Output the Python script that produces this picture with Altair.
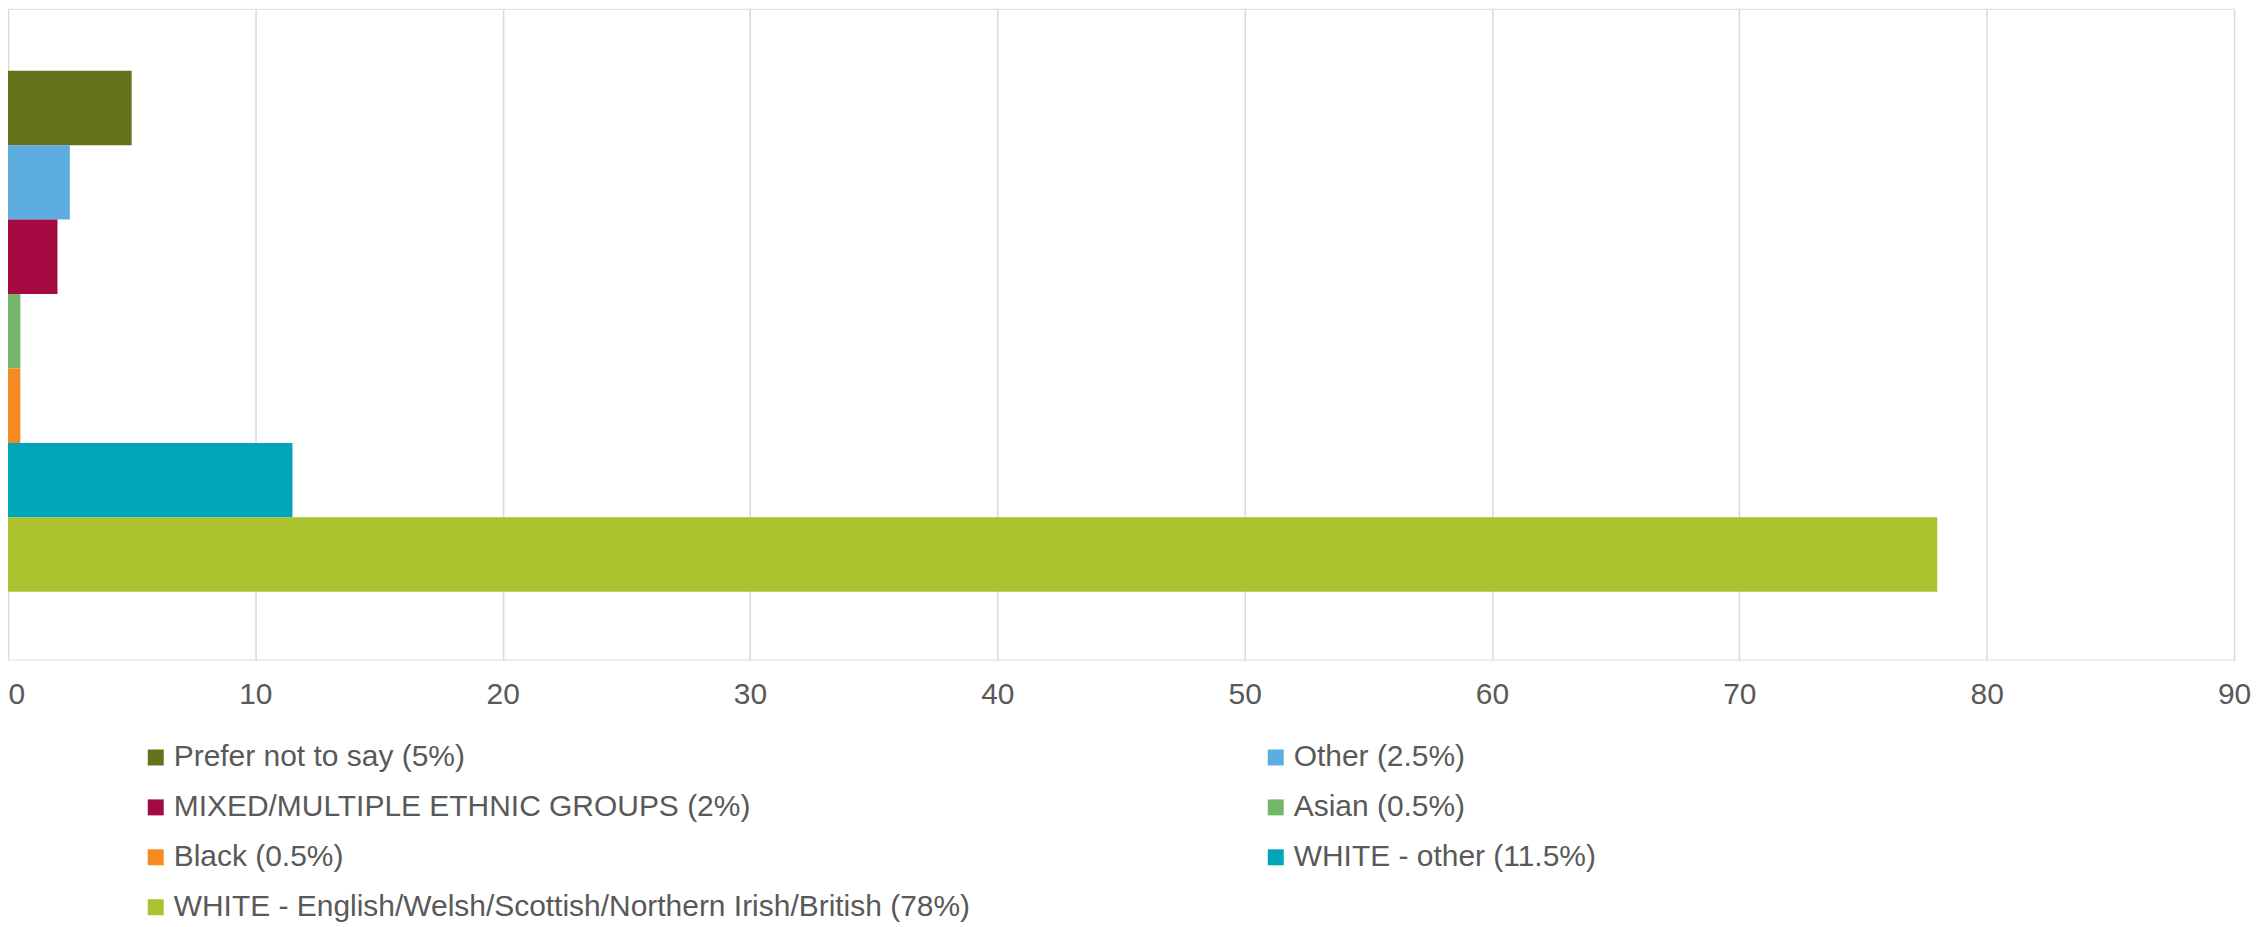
import altair as alt
import pandas as pd

groups = [
    "Prefer not to say (5%)",
    "Other (2.5%)",
    "MIXED/MULTIPLE ETHNIC GROUPS (2%)",
    "Asian (0.5%)",
    "Black (0.5%)",
    "WHITE - other (11.5%)",
    "WHITE - English/Welsh/Scottish/Northern Irish/British (78%)",
]
values = [5, 2.5, 2, 0.5, 0.5, 11.5, 78]
colors = ["#65711b", "#5dade0", "#a50941", "#74b76b", "#f68a22", "#00a5b9", "#abc12d"]
x_ticks = [0, 10, 20, 30, 40, 50, 60, 70, 80, 90]

df = pd.DataFrame({"group": groups, "value": values})

FONT = "Liberation Sans"
GREY = "#595959"

chart = (
    alt.Chart(df)
    .mark_bar()
    .encode(
        x=alt.X(
            "value:Q",
            scale=alt.Scale(domain=[0, 90], nice=False),
            axis=alt.Axis(
                values=x_ticks,
                title=None,
                grid=True,
                gridColor="#d9d9d9",
                gridWidth=1.5,
                domain=False,
                ticks=False,
                labelFont=FONT,
                labelFontSize=30,
                labelColor=GREY,
                labelPadding=20,
                labelFlush=False,
                labelAlign={"condition": {"test": "datum.value === 0", "value": "left"}, "value": "center"},
            ),
        ),
        y=alt.Y(
            "group:N",
            sort=groups,
            scale=alt.Scale(paddingInner=0, paddingOuter=0.872, align=0.477),
            axis=None,
        ),
        color=alt.Color(
            "group:N",
            sort=groups,
            scale=alt.Scale(domain=groups, range=colors),
            legend=alt.Legend(
                title=None,
                orient="none",
                legendX=133,
                legendY=735,
                columns=2,
                columnPadding=290,
                rowPadding=20,
                padding=0,
                symbolType="square",
                symbolSize=256,
                symbolStrokeWidth=0,
                symbolOpacity=1,
                labelFont=FONT,
                labelFontSize=30,
                labelColor=GREY,
                labelOffset=3,
                labelLimit=0,
                direction="horizontal",
            ),
        ),
    )
    .properties(
        width=2230,
        height=652,
        autosize=alt.AutoSizeParams(type="none"),
        padding={"left": 0, "top": 0, "right": 20, "bottom": 270},
    )
    .configure_view(stroke=None)
    .configure(background="white")
)

chart.save("out.html", embed_options={"renderer": "svg", "actions": False})
